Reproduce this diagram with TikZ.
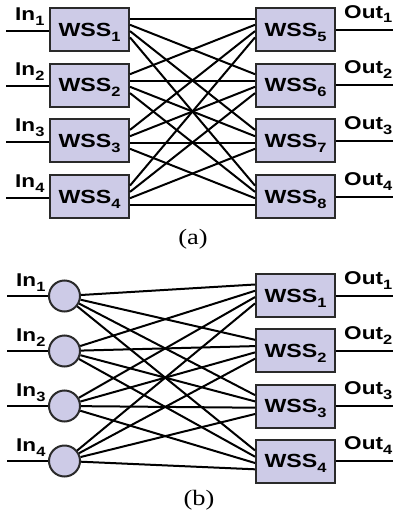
\documentclass[tikz,border=0pt]{standalone}
\usepackage{fontspec}
\setsansfont{Liberation Sans}[FakeStretch=1.22]
\setmainfont{Liberation Serif}[FakeStretch=1.2]
\usepackage{tikz}
\usetikzlibrary{calc}
\definecolor{cCaja}{HTML}{CDCBE7}
\definecolor{cBorde}{HTML}{2A2A2A}

% subíndice bajado, sin alterar la caja del texto
\newcommand{\idx}[1]{\raisebox{-5pt}[0pt][0pt]{\fontsize{13.5}{13.5}\selectfont #1}}

\begin{document}
\begin{tikzpicture}[
    x=1pt, y=-1pt,
    caja/.style={draw=cBorde, fill=cCaja, line width=2pt, minimum width=79pt,
                 minimum height=43pt, inner sep=0pt, anchor=north,
                 font=\sffamily\bfseries\fontsize{19}{19}\selectfont},
    nodo/.style={circle, draw=cBorde, fill=cCaja, line width=2pt,
                 minimum size=31pt, inner sep=0pt},
    hilo/.style={draw=black, line width=2pt},
    etq/.style={anchor=base west, inner sep=0pt,
                font=\sffamily\bfseries\fontsize{18.5}{19}\selectfont},
    pie/.style={font=\rmfamily\fontsize{22}{22}\selectfont},
]
\useasboundingbox (0,0) rectangle (392,514);

\def\xL{89.5}    % centro de las cajas de entrada
\def\xR{295.5}   % centro de las cajas de salida

% ===================== (a): dos etapas de WSS =====================
\foreach \i in {1,...,4} {
    \pgfmathsetmacro\ty{7+55.7*(\i-1)}
    \pgfmathtruncatemacro\j{\i+4}
    \node[caja] (wA\i) at (\xL,\ty) {WSS\idx{\i}};
    \node[caja] (wA\j) at (\xR,\ty) {WSS\idx{\j}};
}

% puertos repartidos a lo largo de los bordes
\foreach \i in {1,...,4} {
    \pgfmathtruncatemacro\j{\i+4}
    \foreach \k [evaluate=\k as \o using {11.5+6.3*(\k-1)}] in {1,...,4} {
        \coordinate (pL\i-\k) at ($(wA\i.north east)+(0,\o)$);
        \coordinate (pR\j-\k) at ($(wA\j.north west)+(0,\o)$);
    }
}

% malla completa: caja i, puerto k  ->  caja k+4, puerto i
\foreach \i in {1,...,4} {
    \foreach \k in {1,...,4} {
        \pgfmathtruncatemacro\j{\k+4}
        \draw[hilo] (pL\i-\k) -- (pR\j-\i);
    }
}

% entradas y salidas
\foreach \i in {1,...,4} {
    \pgfmathtruncatemacro\j{\i+4}
    \coordinate (eA\i) at ($(wA\i.north west)+(-43,23.5)$);
    \draw[hilo] (eA\i) -- (eA\i -| wA\i.west);
    \node[etq] (inA\i) at ($(eA\i)+(9,-10.5)$) {In\idx{\i}};
    \coordinate (sA\i) at ($(wA\j.north east)+(57,22.5)$);
    \draw[hilo] (sA\i -| wA\j.east) -- (sA\i);
    \node[etq] (outA\i) at ($(wA\j.north east)+(8,11)$) {Out\idx{\i}};
}

\node[pie] (capA) at (193,239) {(a)};

% ===================== (b): divisores y una etapa de WSS =====================
\foreach \i in {1,...,4} {
    \pgfmathsetmacro\ty{273+55.3*(\i-1)}
    \pgfmathsetmacro\cy{296+55*(\i-1)}
    \node[nodo] (cB\i) at (64.5,\cy) {};
    \node[caja] (wB\i) at (\xR,\ty) {WSS\idx{\i}};
}

\foreach \k in {1,...,4} {
    \foreach \i [evaluate=\i as \o using {11.5+6.3*(\i-1)}] in {1,...,4} {
        \coordinate (qB\k-\i) at ($(wB\k.north west)+(0,\o)$);
    }
}

% cada divisor reparte hacia las cuatro cajas
\foreach \i in {1,...,4} {
    \foreach \k in {1,...,4} {
        \draw[hilo] (cB\i) -- (qB\k-\i);
    }
}

\foreach \i in {1,...,4} {
    \coordinate (eB\i) at (7,{296+55*(\i-1)});
    \draw[hilo] (eB\i) -- (cB\i.west);
    \node[etq] (inB\i) at ($(eB\i)+(9,-9.5)$) {In\idx{\i}};
    \coordinate (sB\i) at ($(wB\i.north east)+(57,22.5)$);
    \draw[hilo] (sB\i -| wB\i.east) -- (sB\i);
    \node[etq] (outB\i) at ($(wB\i.north east)+(8,11)$) {Out\idx{\i}};
}

\node[pie] (capB) at (199,500) {(b)};

\end{tikzpicture}
\end{document}
